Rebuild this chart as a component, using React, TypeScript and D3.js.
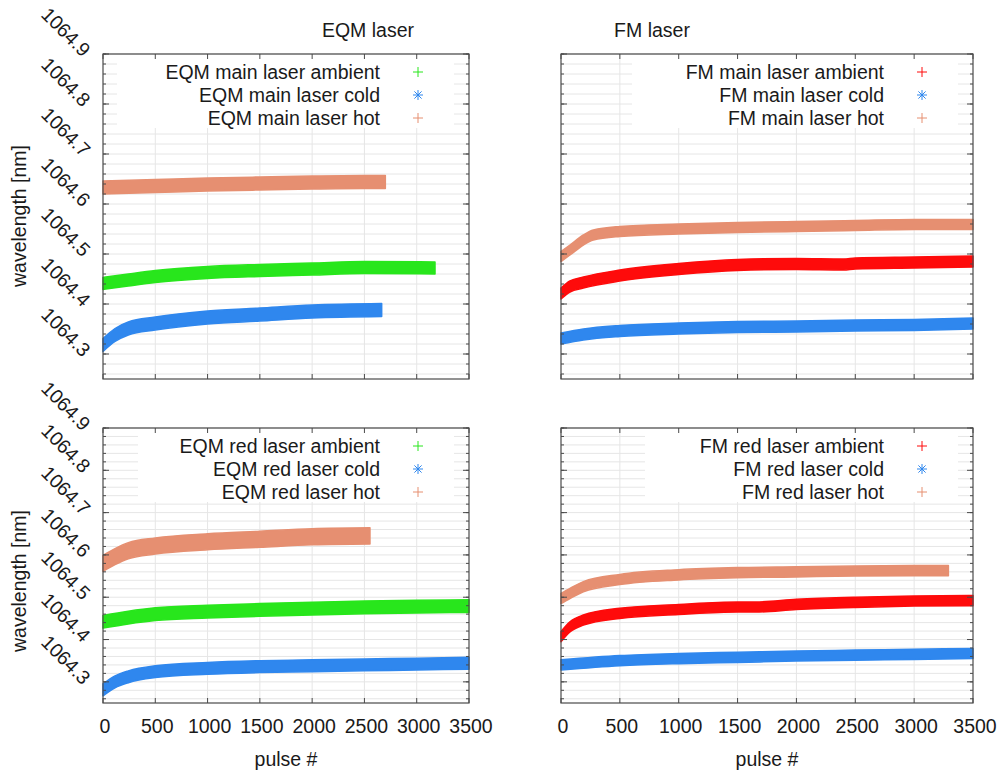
import React from 'react';
import * as d3 from 'd3';

// ---------- data ----------
const PULSE_TICKS = [0, 500, 1000, 1500, 2000, 2500, 3000, 3500];
const WL_TICKS = [1064.3, 1064.4, 1064.5, 1064.6, 1064.7, 1064.8, 1064.9];
const WL_TICK_LABELS = ['1064.3', '1064.4', '1064.5', '1064.6', '1064.7', '1064.8', '1064.9'];
const X_DOMAIN = [0, 3500];
const Y_DOMAIN = [1064.25, 1064.9];
const COLUMN_TITLES = ['EQM laser', 'FM laser'];

// EQM main laser
const EQM_MAIN_AMB_P = [0, 242, 500, 1000, 1500, 2000, 2500, 3175];
const EQM_MAIN_AMB_V = [1064.441, 1064.448, 1064.455, 1064.463, 1064.467, 1064.470, 1064.473, 1064.472];
const EQM_MAIN_COLD_P = [0, 115, 242, 500, 1000, 1500, 2000, 2665];
const EQM_MAIN_COLD_V = [1064.318, 1064.338, 1064.351, 1064.361, 1064.373, 1064.379, 1064.385, 1064.388];
const EQM_MAIN_HOT_P = [0, 500, 1000, 1500, 2000, 2500, 2700];
const EQM_MAIN_HOT_V = [1064.633, 1064.636, 1064.639, 1064.641, 1064.643, 1064.644, 1064.644];

// FM main laser
const FM_MAIN_AMB_P = [0, 76, 190, 500, 1000, 1500, 2000, 2400, 2500, 3000, 3500];
const FM_MAIN_AMB_V = [1064.421, 1064.435, 1064.443, 1064.457, 1064.470, 1064.478, 1064.480, 1064.479, 1064.481, 1064.483, 1064.485];
const FM_MAIN_COLD_P = [0, 190, 500, 1000, 1500, 2000, 2500, 3000, 3500];
const FM_MAIN_COLD_V = [1064.331, 1064.339, 1064.346, 1064.351, 1064.354, 1064.355, 1064.357, 1064.358, 1064.361];
const FM_MAIN_HOT_P = [0, 76, 190, 275, 500, 1000, 1500, 2000, 2500, 3000, 3500];
const FM_MAIN_HOT_V = [1064.495, 1064.508, 1064.528, 1064.538, 1064.545, 1064.550, 1064.553, 1064.555, 1064.557, 1064.559, 1064.559];

// EQM red laser
const EQM_RED_AMB_P = [0, 242, 500, 1000, 1500, 2000, 2500, 3000, 3500];
const EQM_RED_AMB_V = [1064.442, 1064.452, 1064.460, 1064.466, 1064.470, 1064.473, 1064.476, 1064.478, 1064.479];
const EQM_RED_COLD_P = [0, 115, 242, 500, 1000, 1500, 2000, 2500, 3000, 3500];
const EQM_RED_COLD_V = [1064.281, 1064.300, 1064.312, 1064.324, 1064.332, 1064.336, 1064.338, 1064.340, 1064.342, 1064.344];
const EQM_RED_HOT_P = [0, 115, 242, 500, 1000, 1500, 2000, 2553];
const EQM_RED_HOT_V = [1064.580, 1064.596, 1064.610, 1064.621, 1064.631, 1064.637, 1064.643, 1064.645];

// FM red laser
const FM_RED_AMB_P = [0, 76, 190, 500, 1000, 1500, 1650, 2000, 2500, 3000, 3500];
const FM_RED_AMB_V = [1064.407, 1064.430, 1064.446, 1064.462, 1064.471, 1064.477, 1064.477, 1064.483, 1064.488, 1064.491, 1064.492];
const FM_RED_COLD_P = [0, 500, 1000, 1500, 2000, 2500, 3000, 3500];
const FM_RED_COLD_V = [1064.340, 1064.350, 1064.355, 1064.358, 1064.361, 1064.363, 1064.365, 1064.367];
const FM_RED_HOT_P = [0, 76, 190, 500, 1000, 1500, 2000, 2500, 3000, 3291];
const FM_RED_HOT_V = [1064.497, 1064.509, 1064.525, 1064.542, 1064.553, 1064.558, 1064.560, 1064.562, 1064.563, 1064.563];

// band half-widths (scatter spread, nm)
const SPREAD_EQM_MAIN = [0.012, 0.013, 0.013];
const SPREAD_FM_MAIN = [0.011, 0.011, 0.010];
const SPREAD_EQM_RED = [0.015, 0.014, 0.019];
const SPREAD_FM_RED = [0.012, 0.012, 0.012];

const LEGEND_EQM_MAIN = ['EQM main laser ambient', 'EQM main laser cold', 'EQM main laser hot'];
const LEGEND_FM_MAIN = ['FM main laser ambient', 'FM main laser cold', 'FM main laser hot'];
const LEGEND_EQM_RED = ['EQM red laser ambient', 'EQM red laser cold', 'EQM red laser hot'];
const LEGEND_FM_RED = ['FM red laser ambient', 'FM red laser cold', 'FM red laser hot'];

// ---------- styles ----------
const FONT = "'Liberation Sans', Arial, Helvetica, sans-serif";
const GREEN = '#28e61c';
const RED = '#fe0b0b';
const BLUE = '#2f87ee';
const SALMON = '#e68f71';
const TEXT = '#1a1a1a';
const FS = 19.5;

type Series = { p: number[]; v: number[]; hw: number; color: string; marker: 'plus' | 'star' };

const PANELS = [
  {
    x0: 103, x1: 469, y0: 54, y1: 379, legendLeft: 117, showX: false, showY: true,
    labels: LEGEND_EQM_MAIN,
    series: [
      { p: EQM_MAIN_AMB_P, v: EQM_MAIN_AMB_V, hw: SPREAD_EQM_MAIN[0], color: GREEN, marker: 'plus' },
      { p: EQM_MAIN_COLD_P, v: EQM_MAIN_COLD_V, hw: SPREAD_EQM_MAIN[1], color: BLUE, marker: 'star' },
      { p: EQM_MAIN_HOT_P, v: EQM_MAIN_HOT_V, hw: SPREAD_EQM_MAIN[2], color: SALMON, marker: 'plus' },
    ] as Series[],
  },
  {
    x0: 561, x1: 973, y0: 54, y1: 379, legendLeft: 632, showX: false, showY: false,
    labels: LEGEND_FM_MAIN,
    series: [
      { p: FM_MAIN_AMB_P, v: FM_MAIN_AMB_V, hw: SPREAD_FM_MAIN[0], color: RED, marker: 'plus' },
      { p: FM_MAIN_COLD_P, v: FM_MAIN_COLD_V, hw: SPREAD_FM_MAIN[1], color: BLUE, marker: 'star' },
      { p: FM_MAIN_HOT_P, v: FM_MAIN_HOT_V, hw: SPREAD_FM_MAIN[2], color: SALMON, marker: 'plus' },
    ] as Series[],
  },
  {
    x0: 103, x1: 469, y0: 428, y1: 703, legendLeft: 138, showX: true, showY: true,
    labels: LEGEND_EQM_RED,
    series: [
      { p: EQM_RED_AMB_P, v: EQM_RED_AMB_V, hw: SPREAD_EQM_RED[0], color: GREEN, marker: 'plus' },
      { p: EQM_RED_COLD_P, v: EQM_RED_COLD_V, hw: SPREAD_EQM_RED[1], color: BLUE, marker: 'star' },
      { p: EQM_RED_HOT_P, v: EQM_RED_HOT_V, hw: SPREAD_EQM_RED[2], color: SALMON, marker: 'plus' },
    ] as Series[],
  },
  {
    x0: 561, x1: 973, y0: 428, y1: 703, legendLeft: 645, showX: true, showY: false,
    labels: LEGEND_FM_RED,
    series: [
      { p: FM_RED_AMB_P, v: FM_RED_AMB_V, hw: SPREAD_FM_RED[0], color: RED, marker: 'plus' },
      { p: FM_RED_COLD_P, v: FM_RED_COLD_V, hw: SPREAD_FM_RED[1], color: BLUE, marker: 'star' },
      { p: FM_RED_HOT_P, v: FM_RED_HOT_V, hw: SPREAD_FM_RED[2], color: SALMON, marker: 'plus' },
    ] as Series[],
  },
];

function Marker({ x, y, type, color }: { x: number; y: number; type: string; color: string }) {
  const r = 5;
  if (type === 'plus') {
    return (
      <g stroke={color} strokeWidth={1}>
        <line x1={x - r} y1={y} x2={x + r} y2={y} />
        <line x1={x} y1={y - r} x2={x} y2={y + r} />
      </g>
    );
  }
  const d = r * 0.72;
  return (
    <g stroke={color} strokeWidth={1}>
      <line x1={x - r} y1={y} x2={x + r} y2={y} />
      <line x1={x} y1={y - r} x2={x} y2={y + r} />
      <line x1={x - d} y1={y - d} x2={x + d} y2={y + d} />
      <line x1={x - d} y1={y + d} x2={x + d} y2={y - d} />
    </g>
  );
}

function Panel({ cfg }: { cfg: (typeof PANELS)[number] }) {
  const xs = d3.scaleLinear().domain(X_DOMAIN).range([cfg.x0, cfg.x1]);
  const ys = d3.scaleLinear().domain(Y_DOMAIN).range([cfg.y1, cfg.y0]);
  const minor = d3.range(0, 33).map((i) => 1064.26 + i * 0.02).filter((v) => v <= 1064.9001);
  const textRight = cfg.x1 - 89;
  const markX = cfg.x1 - 51;
  const rows = [18, 41, 64];

  return (
    <g>
      {/* grid */}
      <g stroke="#e6e6e6" strokeWidth={1}>
        {minor.map((v, i) => (
          <line key={'h' + i} x1={cfg.x0} x2={cfg.x1} y1={ys(v)} y2={ys(v)} />
        ))}
        {PULSE_TICKS.slice(1, -1).map((p) => (
          <line key={'v' + p} x1={xs(p)} x2={xs(p)} y1={cfg.y0} y2={cfg.y1} />
        ))}
      </g>
      {/* legend box */}
      <rect x={cfg.legendLeft} y={cfg.y0 + 1} width={cfg.x1 - 15 - cfg.legendLeft} height={73} fill="#fff" />
      {/* data bands */}
      {cfg.series.map((s, i) => {
        const pts = s.p.map((p, j) => [p, s.v[j]] as [number, number]);
        const area = d3
          .area<[number, number]>()
          .x((d) => xs(d[0]))
          .y0((d) => ys(d[1] - s.hw))
          .y1((d) => ys(d[1] + s.hw))
          .curve(d3.curveMonotoneX);
        return (
          <path key={i} d={area(pts) || ''} fill={s.color} stroke={s.color} strokeWidth={1.5} strokeLinejoin="round" />
        );
      })}
      {/* frame */}
      <rect x={cfg.x0} y={cfg.y0} width={cfg.x1 - cfg.x0} height={cfg.y1 - cfg.y0} fill="none" stroke="#4a4a4a" strokeWidth={1.2} />
      {/* ticks */}
      <g stroke="#4a4a4a" strokeWidth={1}>
        {PULSE_TICKS.map((p) => (
          <g key={'xt' + p}>
            <line x1={xs(p)} x2={xs(p)} y1={cfg.y1} y2={cfg.y1 - 5} />
            <line x1={xs(p)} x2={xs(p)} y1={cfg.y0} y2={cfg.y0 + 5} />
          </g>
        ))}
        {minor.map((v, i) => (
          <g key={'ym' + i}>
            <line x1={cfg.x0} x2={cfg.x0 + 3} y1={ys(v)} y2={ys(v)} />
            <line x1={cfg.x1} x2={cfg.x1 - 3} y1={ys(v)} y2={ys(v)} />
          </g>
        ))}
        {WL_TICKS.map((v) => (
          <g key={'yt' + v}>
            <line x1={cfg.x0} x2={cfg.x0 + 6} y1={ys(v)} y2={ys(v)} />
            <line x1={cfg.x1} x2={cfg.x1 - 6} y1={ys(v)} y2={ys(v)} />
          </g>
        ))}
      </g>
      {/* tick labels */}
      {cfg.showX &&
        PULSE_TICKS.map((p) => (
          <text key={'xl' + p} x={xs(p) + 2} y={733} textAnchor="middle" fontSize={FS} fill={TEXT}>
            {String(p)}
          </text>
        ))}
      {cfg.showX && (
        <text x={(cfg.x0 + cfg.x1) / 2} y={766} textAnchor="middle" fontSize={FS} fill={TEXT}>
          pulse #
        </text>
      )}
      {cfg.showY &&
        WL_TICKS.map((v, i) => (
          <text
            key={'yl' + v}
            transform={`translate(${cfg.x0 - 16},${ys(v) - 1}) rotate(45)`}
            textAnchor="end"
            dy="0.35em"
            fontSize={FS}
            fill={TEXT}
          >
            {WL_TICK_LABELS[i]}
          </text>
        ))}
      {cfg.showY && (
        <text
          transform={`translate(26,${cfg.y0 === 54 ? 216 : 581}) rotate(-90)`}
          textAnchor="middle"
          fontSize={FS}
          fill={TEXT}
        >
          wavelength [nm]
        </text>
      )}
      {/* legend */}
      {cfg.labels.map((lab, i) => (
        <g key={'lg' + i}>
          <text x={textRight} y={cfg.y0 + rows[i] + 7} textAnchor="end" fontSize={FS} fill={TEXT}>
            {lab}
          </text>
          <Marker x={markX} y={cfg.y0 + rows[i]} type={cfg.series[i].marker} color={cfg.series[i].color} />
        </g>
      ))}
    </g>
  );
}

export default function App() {
  return (
    <svg
      width={999}
      height={774}
      viewBox="0 0 999 774"
      style={{ position: 'absolute', left: 0, top: 0, background: '#fff' }}
      fontFamily={FONT}
    >
      <rect x={0} y={0} width={999} height={774} fill="#fff" />
      <text x={368} y={37} textAnchor="middle" fontSize={FS} fill={TEXT}>
        {COLUMN_TITLES[0]}
      </text>
      <text x={652} y={37} textAnchor="middle" fontSize={FS} fill={TEXT}>
        {COLUMN_TITLES[1]}
      </text>
      {PANELS.map((cfg, i) => (
        <Panel key={i} cfg={cfg} />
      ))}
    </svg>
  );
}
